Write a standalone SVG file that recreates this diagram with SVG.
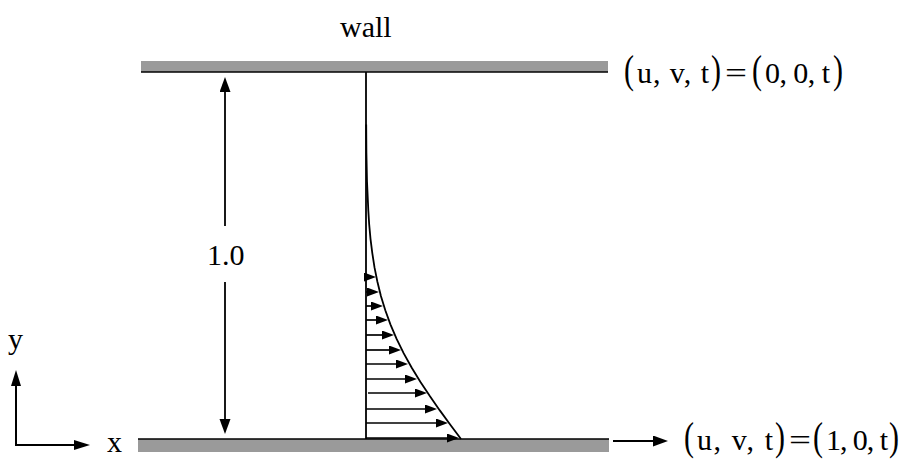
<svg xmlns="http://www.w3.org/2000/svg" width="903" height="465" viewBox="0 0 903 465">
<style>
text{font-family:"Liberation Serif","Times New Roman",serif;fill:#000}
.lbl{font-size:30px}
.par{font-size:40px}
.wallbar{fill:#9a9a9a}
.edge{stroke:#000;stroke-width:1.6;fill:none}
.ln{stroke:#000;stroke-width:1.8;fill:none}
.vel{stroke:#000;stroke-width:1.7;fill:none;marker-end:url(#ah)}
</style>
<defs>
<marker id="ah" markerUnits="userSpaceOnUse" markerWidth="13" markerHeight="11" refX="7" refY="4.5" orient="auto"><path d="M0,0 L12,4.5 L0,9 z" fill="#000"/></marker>
<marker id="ahBig" markerUnits="userSpaceOnUse" markerWidth="16" markerHeight="12" refX="9" refY="5.5" orient="auto"><path d="M0,0 L15,5.5 L0,11 z" fill="#000"/></marker>
<marker id="ahAx" markerUnits="userSpaceOnUse" markerWidth="17" markerHeight="11" refX="10" refY="5" orient="auto"><path d="M0,0 L16,5 L0,10 z" fill="#000"/></marker>
</defs>
<g id="top-wall">
<rect class="wallbar" x="141" y="61" width="467" height="11"/>
<line class="edge" x1="141" y1="72" x2="608" y2="72"/>
</g>
<g id="bottom-wall">
<rect class="wallbar" x="138" y="439" width="471" height="13"/>
<line class="edge" x1="138" y1="439" x2="609" y2="439"/>
</g>
<g id="wall-label"><text class="lbl" x="340" y="37">wall</text></g>
<g id="top-bc">
<text class="par" x="624" y="83" textLength="10" lengthAdjust="spacingAndGlyphs">(</text>
<text class="lbl" x="637" y="83" textLength="72">u, v, t</text>
<text class="par" x="711" y="83" textLength="10" lengthAdjust="spacingAndGlyphs">)</text>
<text class="lbl" x="725" y="83" textLength="22" lengthAdjust="spacingAndGlyphs">=</text>
<text class="par" x="752" y="83" textLength="10" lengthAdjust="spacingAndGlyphs">(</text>
<text class="lbl" x="765" y="83" textLength="65">0, 0, t</text>
<text class="par" x="833" y="83" textLength="10" lengthAdjust="spacingAndGlyphs">)</text>
</g>
<g id="bottom-bc">
<text class="par" x="684" y="450" textLength="10" lengthAdjust="spacingAndGlyphs">(</text>
<text class="lbl" x="697" y="450" textLength="76">u, v, t</text>
<text class="par" x="775" y="450" textLength="10" lengthAdjust="spacingAndGlyphs">)</text>
<text class="lbl" x="789" y="450" textLength="22" lengthAdjust="spacingAndGlyphs">=</text>
<text class="par" x="813" y="450" textLength="10" lengthAdjust="spacingAndGlyphs">(</text>
<text class="lbl" x="826" y="450" textLength="62">1, 0, t</text>
<text class="par" x="889" y="450" textLength="10" lengthAdjust="spacingAndGlyphs">)</text>
</g>
<g id="height-label"><text class="lbl" x="207" y="265">1.0</text></g>
<g id="axis-labels">
<text class="lbl" x="8" y="349">y</text>
<text class="lbl" x="107" y="452">x</text>
</g>
<g id="centerline"><line class="ln" x1="366" y1="72" x2="366" y2="439"/></g>
<g id="profile">
<path class="ln" d="M366.2,124.4 L366.4,153 L367,181.6 L368.3,210.2 L369.2,224.5 L370.5,238.8 L372.3,253.1 L374.5,267.4 L377.4,281.7 L380.9,296 L385.3,310.3 L390.5,324.6 L396.6,338.9 L403.6,353.2 L411.6,367.5 L420.3,381.8 L429.8,396.1 L439.8,410.4 L450.3,424.7 L461,439"/>
</g>
<g id="connectors">
<line class="ln" x1="225" y1="83" x2="225" y2="226" marker-end="url(#ahBig)" transform="rotate(180 225 154.5)"/>
<line class="ln" x1="225" y1="282" x2="225" y2="428" marker-end="url(#ahBig)"/>
<line class="ln" x1="16" y1="445" x2="16" y2="376" marker-end="url(#ahAx)" style="stroke-width:2"/>
<line class="ln" x1="15" y1="445" x2="84" y2="445" marker-end="url(#ahAx)" style="stroke-width:2"/>
<line class="ln" x1="613" y1="441" x2="662" y2="441" marker-end="url(#ahBig)"/>
<line class="vel" x1="366" y1="277" x2="371" y2="277"/>
<line class="vel" x1="366" y1="292" x2="374" y2="292"/>
<line class="vel" x1="366" y1="306" x2="378" y2="306"/>
<line class="vel" x1="366" y1="320" x2="383" y2="320"/>
<line class="vel" x1="366" y1="335" x2="389" y2="335"/>
<line class="vel" x1="366" y1="350" x2="396" y2="350"/>
<line class="vel" x1="366" y1="364" x2="403" y2="364"/>
<line class="vel" x1="366" y1="379" x2="412" y2="379"/>
<line class="vel" x1="368" y1="393" x2="422" y2="393"/>
<line class="vel" x1="366" y1="409" x2="432" y2="409"/>
<line class="vel" x1="366" y1="423" x2="443" y2="423"/>
<line class="vel" x1="366" y1="438" x2="454" y2="438"/>
</g>
</svg>
